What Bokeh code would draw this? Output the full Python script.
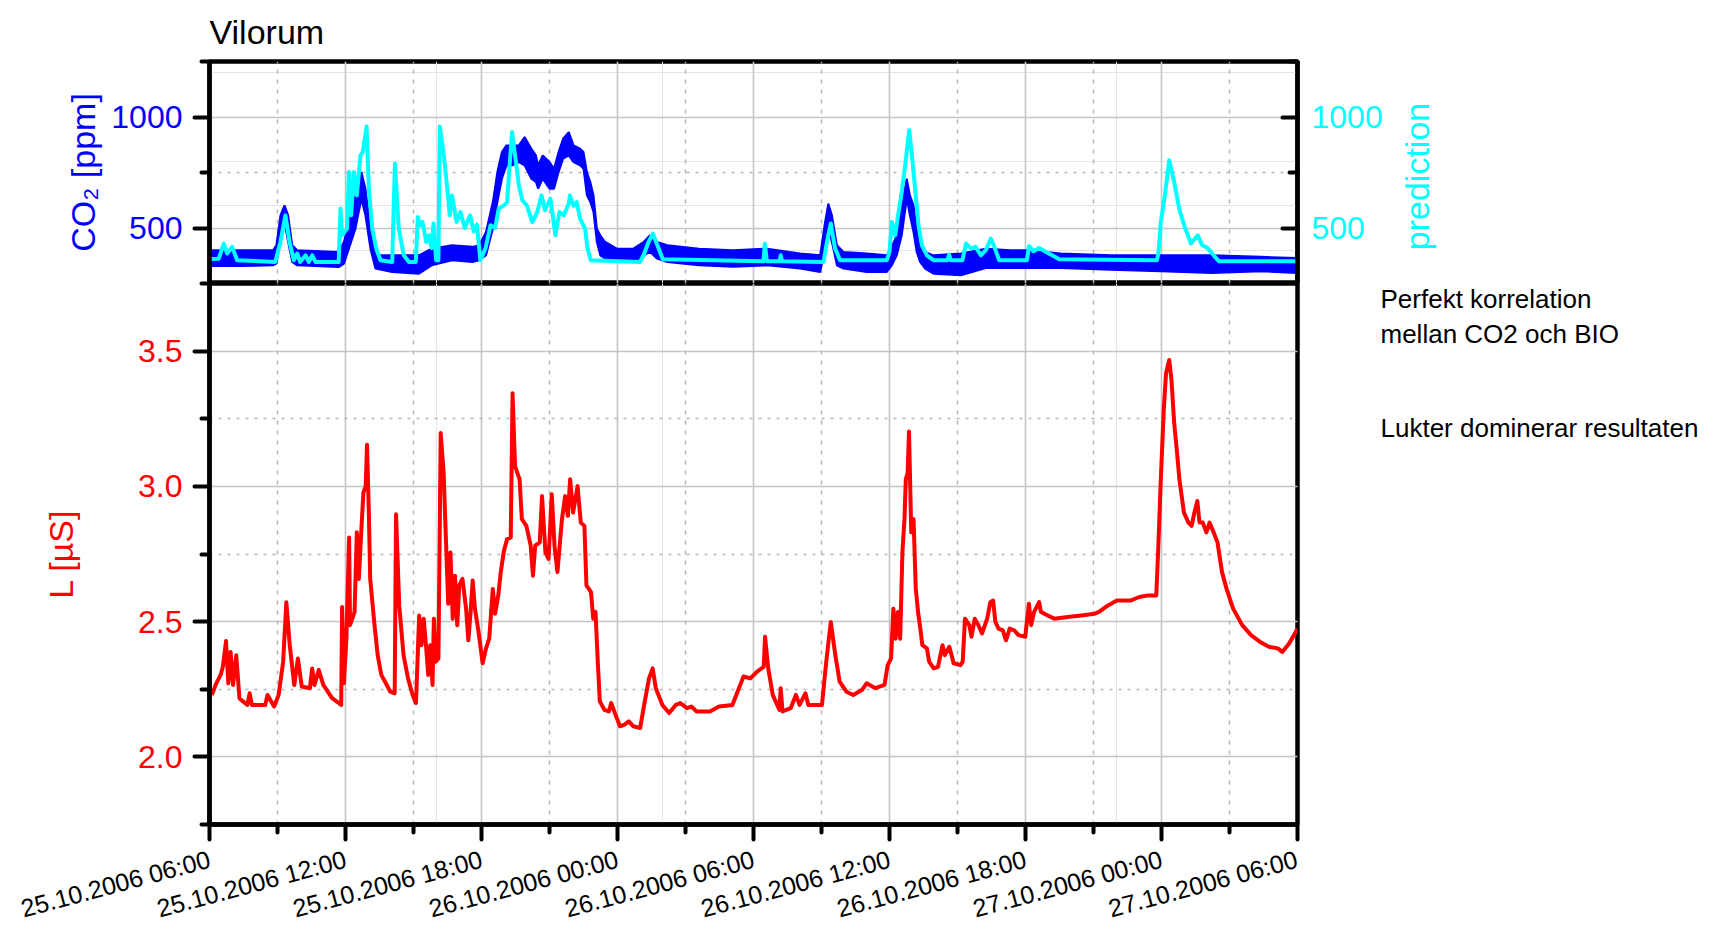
import math
from bokeh.plotting import figure
from bokeh.models import Range1d, LinearAxis, FixedTicker, Grid, Label, Title
from bokeh.layouts import column, row
from bokeh.embed import file_html
from bokeh.resources import INLINE

FONT = "Liberation Sans"
BLUE = "#0000FF"
CYAN = "#00FFFF"
RED = "#FF0000"
BLACK = "#000000"

# ---------------- data (hours since 25.10.2006 06:00) ----------------
x_ticks = [0, 6, 12, 18, 24, 30, 36, 42, 48]
x_minor = [3, 9, 15, 21, 27, 33, 39, 45]
x_tick_labels = ["25.10.2006 06:00", "25.10.2006 12:00", "25.10.2006 18:00",
                 "26.10.2006 00:00", "26.10.2006 06:00", "26.10.2006 12:00",
                 "26.10.2006 18:00", "27.10.2006 00:00", "27.10.2006 06:00"]

co2_ticks = [500, 1000]
co2_minor = [250, 750, 1250]
l_ticks = [2.0, 2.5, 3.0, 3.5]
l_minor = [1.75, 2.25, 2.75, 3.25, 3.75]
l_tick_labels = ["2.0", "2.5", "3.0", "3.5"]

# CO2 measurement (noisy band: lower / upper envelope)
co2_hours = [0.0, 1.3, 2.8, 2.95, 3.13, 3.31, 3.47, 3.65, 3.87, 5.7, 5.93, 6.15, 6.44, 6.7,
             6.88, 7.1, 7.32, 8.06, 9.24, 9.8, 10.7, 11.6, 11.9, 12.2, 12.5, 12.7, 12.9,
             13.1, 13.35, 13.65, 13.9, 14.2, 14.4, 14.5, 14.7, 15.0, 15.2, 15.4, 15.6,
             15.85, 16.06, 16.35, 16.5, 16.65, 16.8, 16.94, 17.09, 17.24, 17.46, 17.97,
             18.7, 19.15, 19.44, 19.74, 20.2, 21.6, 23.1, 24.6, 26.06, 26.94, 27.16, 27.3,
             27.46, 27.68, 27.97, 29.0, 29.88, 30.1, 30.32, 30.54, 30.76, 30.9, 31.06,
             31.2, 31.35, 31.57, 31.94, 33.15, 34.25, 35.35, 36.1, 37.56, 39.76, 41.97,
             44.2, 46.4, 48.0]
co2_low = [329, 329, 332, 340, 437, 527, 437, 347, 332, 324, 339, 407, 497, 632,
           557, 407, 317, 302, 294, 332, 355, 347, 355, 377, 497, 617, 722,
           782, 782, 797, 782, 722, 707, 677, 722, 677, 677, 752, 812,
           827, 797, 782, 767, 647, 617, 572, 437, 377, 362, 347,
           347, 377, 392, 362, 347, 332, 325, 332, 317, 302, 407, 497,
           437, 332, 317, 302, 302, 332, 377, 467, 632, 557, 482,
           392, 347, 317, 294, 287, 320, 320, 320, 320, 312, 305,
           297, 305, 297]
co2_high = [400, 400, 400, 422, 557, 602, 557, 422, 400, 392, 437, 527, 647, 752,
            677, 497, 377, 377, 377, 407, 422, 415, 422, 482, 617, 752, 842,
            872, 872, 872, 910, 857, 827, 782, 827, 797, 767, 842, 902,
            932, 872, 857, 842, 752, 707, 647, 497, 467, 437, 407,
            407, 437, 467, 437, 422, 407, 400, 407, 385, 377, 527, 610,
            557, 422, 392, 385, 377, 415, 467, 602, 722, 647, 602,
            497, 422, 392, 377, 385, 407, 400, 400, 385, 377, 377,
            377, 370, 365]

# prediction
pred_hours = [0.0, 0.41, 0.63, 0.78, 1.0, 1.22, 2.9, 3.13, 3.35, 3.53, 3.72, 3.87, 4.0,
              4.24, 4.38, 4.53, 4.68, 5.7, 5.78, 5.85, 6.07, 6.15, 6.25, 6.37, 6.5,
              6.66, 6.76, 6.93, 7.03, 7.18, 7.35, 7.54, 8.06, 8.18, 8.35, 8.57, 8.8,
              9.1, 9.19, 9.3, 9.4, 9.56, 9.68, 9.8, 9.88, 10.0, 10.1, 10.16, 10.34,
              10.49, 10.6, 10.7, 10.9, 11.07, 11.26, 11.5, 11.66, 11.8, 11.95, 12.18,
              12.4, 12.6, 12.76, 12.99, 13.13, 13.24, 13.35, 13.5, 13.65, 13.8, 14.0,
              14.24, 14.46, 14.65, 14.8, 15.04, 15.26, 15.44, 15.63, 15.85, 15.9, 16.06,
              16.2, 16.35, 16.57, 16.68, 16.82, 19.0, 19.18, 19.37, 19.56, 19.76, 20.0,
              24.44, 24.5, 24.59, 25.15, 25.2, 25.26, 27.09, 27.24, 27.41, 27.6, 27.82,
              29.88, 30.0, 30.1, 30.25, 30.4, 30.54, 30.69, 30.76, 30.87, 30.99, 31.13,
              31.28, 31.43, 31.65, 31.94, 32.56, 32.63, 32.7, 33.22, 33.37, 33.6, 33.8,
              34.03, 34.25, 34.47, 34.6, 34.84, 36.06, 36.16, 36.35, 36.6, 36.97, 37.49,
              41.8, 41.87, 41.97, 42.15, 42.34, 42.56, 42.78, 43.0, 43.3, 43.6, 43.8,
              44.03, 44.3, 44.54, 48.0]
pred_vals = [360, 362, 430, 385, 415, 355, 347, 437, 557, 437, 355, 385, 347,
             377, 347, 377, 347, 347, 587, 467, 497, 752, 557, 752, 647,
             827, 842, 957, 677, 497, 410, 355, 347, 790, 497, 377, 347,
             347, 550, 512, 527, 437, 467, 410, 520, 355, 355, 957, 827,
             677, 557, 647, 527, 572, 500, 557, 485, 515, 355, 410,
             512, 500, 587, 602, 617, 782, 932, 812, 692, 625, 602,
             527, 572, 647, 580, 632, 467, 572, 557, 610, 647, 600,
             617, 542, 497, 407, 355, 347, 385, 437, 475, 422, 359,
             350, 430, 350, 350, 377, 350, 347, 437, 520, 407, 355,
             355, 392, 527, 467, 572, 662, 782, 842, 940, 827, 677,
             512, 422, 377, 355, 355, 380, 355, 355, 430, 407, 415,
             377, 400, 452, 422, 355, 355, 419, 395, 410, 389, 359,
             355, 392, 527, 647, 805, 707, 587, 512, 430, 467, 422,
             410, 377, 350, 350]

# conductivity L [uS]
l_hours = [0.1, 0.3, 0.49, 0.59, 0.73, 0.83, 0.93, 1.04, 1.18, 1.32, 1.48, 1.67, 1.77,
           1.87, 2.46, 2.56, 2.85, 3.05, 3.25, 3.39, 3.54, 3.74, 3.9, 4.07, 4.43, 4.53,
           4.63, 4.82, 5.02, 5.41, 5.71, 5.81, 5.85, 5.93, 6.04, 6.16, 6.2, 6.4, 6.5,
           6.59, 6.69, 6.79, 6.89, 6.95, 7.03, 7.09, 7.28, 7.42, 7.58, 7.78, 7.97, 8.17,
           8.23, 8.37, 8.56, 8.76, 8.96, 9.11, 9.25, 9.35, 9.45, 9.55, 9.65, 9.74, 9.84,
           9.9, 9.98, 10.1, 10.2, 10.33, 10.43, 10.53, 10.63, 10.73, 10.83, 10.93, 11.02,
           11.16, 11.32, 11.42, 11.52, 11.61, 11.71, 11.87, 12.05, 12.2, 12.34, 12.5,
           12.6, 12.74, 12.85, 12.99, 13.13, 13.29, 13.37, 13.48, 13.68, 13.78, 13.98,
           14.17, 14.27, 14.37, 14.57, 14.67, 14.82, 14.96, 15.1, 15.22, 15.35, 15.55,
           15.69, 15.81, 15.91, 16.04, 16.24, 16.38, 16.54, 16.63, 16.83, 16.93, 17.03,
           17.13, 17.22, 17.42, 17.62, 17.72, 17.91, 18.11, 18.31, 18.5, 18.7, 19.0,
           19.19, 19.39, 19.55, 19.69, 19.98, 20.28, 20.57, 20.77, 21.06, 21.26, 21.49,
           22.08, 22.48, 23.07, 23.27, 23.56, 23.86, 24.16, 24.45, 24.51, 24.65, 24.85,
           25.14, 25.2, 25.28, 25.64, 25.87, 26.03, 26.29, 26.42, 27.02, 27.21, 27.41,
           27.61, 27.8, 28.1, 28.4, 28.79, 28.99, 29.38, 29.78, 29.92, 30.07, 30.17,
           30.27, 30.37, 30.47, 30.57, 30.66, 30.72, 30.8, 30.86, 30.96, 31.06, 31.16,
           31.26, 31.36, 31.45, 31.65, 31.75, 31.95, 32.14, 32.34, 32.44, 32.64, 32.83,
           33.13, 33.23, 33.33, 33.52, 33.62, 33.76, 33.92, 34.08, 34.31, 34.45, 34.57,
           34.67, 34.81, 35.0, 35.14, 35.3, 35.5, 35.69, 35.99, 36.15, 36.25, 36.38,
           36.6, 36.68, 36.98, 37.27, 37.86, 38.46, 39.05, 39.24, 39.64, 40.03, 40.63,
           41.02, 41.41, 41.77, 41.85, 41.97, 42.1, 42.2, 42.34, 42.44, 42.56, 42.66,
           42.79, 42.99, 43.19, 43.33, 43.45, 43.58, 43.68, 43.82, 43.98, 44.12, 44.27,
           44.47, 44.67, 44.87, 45.16, 45.56, 45.95, 46.35, 46.74, 47.13, 47.33, 47.63,
           47.92, 48.0]
l_vals = [2.229, 2.272, 2.303, 2.333, 2.428, 2.272, 2.388, 2.266, 2.376, 2.217, 2.205, 2.192, 2.235,
          2.192, 2.192, 2.229, 2.186, 2.229, 2.352, 2.572, 2.413, 2.266, 2.364, 2.26, 2.254, 2.327,
          2.266, 2.321, 2.266, 2.217, 2.199, 2.192, 2.554, 2.272, 2.437, 2.811, 2.487, 2.536, 2.83,
          2.658, 2.824, 2.977, 3.001, 3.154, 2.903, 2.658, 2.487, 2.376, 2.303, 2.272, 2.241, 2.235,
          2.897, 2.56, 2.376, 2.29, 2.229, 2.199, 2.523, 2.413, 2.511, 2.413, 2.303, 2.413, 2.266,
          2.511, 2.352, 2.364, 3.197, 3.05, 2.805, 2.566, 2.756, 2.511, 2.67, 2.487, 2.634,
          2.658, 2.548, 2.431, 2.536, 2.652, 2.548, 2.462, 2.346, 2.401, 2.437, 2.621,
          2.529, 2.597, 2.683, 2.762, 2.805, 2.811, 3.344, 3.075, 3.026, 2.879, 2.854,
          2.781, 2.67, 2.781, 2.793, 2.964, 2.756, 2.732, 2.971, 2.781, 2.683, 2.879,
          2.964, 2.891, 3.026, 2.903, 3.001, 2.866, 2.854, 2.634, 2.609, 2.511, 2.536,
          2.352, 2.205, 2.174, 2.168, 2.199, 2.156, 2.113, 2.119, 2.131, 2.113, 2.107,
          2.199, 2.29, 2.327, 2.254, 2.192, 2.162, 2.192, 2.199, 2.18, 2.186, 2.168,
          2.168, 2.186, 2.192, 2.235, 2.297, 2.29, 2.315, 2.333, 2.444, 2.327, 2.229,
          2.174, 2.254, 2.168, 2.18, 2.229, 2.192, 2.235, 2.192, 2.192, 2.352, 2.499,
          2.376, 2.278, 2.241, 2.229, 2.248, 2.272, 2.254, 2.266, 2.339, 2.364, 2.548,
          2.437, 2.536, 2.437, 2.756, 2.879, 3.026, 3.05, 3.203, 2.83, 2.879, 2.621,
          2.536, 2.474, 2.413, 2.401, 2.352, 2.327, 2.333, 2.413, 2.376, 2.407, 2.346,
          2.339, 2.352, 2.511, 2.487, 2.444, 2.511, 2.487, 2.456, 2.511, 2.572, 2.578,
          2.499, 2.474, 2.468, 2.431, 2.474, 2.468, 2.45, 2.444, 2.566, 2.487, 2.536,
          2.572, 2.536, 2.523, 2.511, 2.517, 2.523, 2.529, 2.536, 2.56, 2.578, 2.578,
          2.591, 2.597, 2.597, 2.756, 3.026, 3.283, 3.418, 3.467, 3.393, 3.234, 3.148,
          3.026, 2.903, 2.866, 2.854, 2.903, 2.946, 2.866, 2.866, 2.83, 2.866, 2.836,
          2.793, 2.683, 2.621, 2.548, 2.487, 2.45, 2.425, 2.407, 2.401, 2.388, 2.419,
          2.462, 2.474]

notes = ["Perfekt korrelation", "mellan CO2 och BIO", "Lukter dominerar resultaten"]

# ---------------- helpers ----------------
def add_grids(p, yticker):
    p.add_layout(Grid(dimension=0, ticker=FixedTicker(ticks=x_ticks, minor_ticks=x_minor),
                      grid_line_color="#C4C4C4", grid_line_width=1.6,
                      minor_grid_line_color="#B4B4B4", minor_grid_line_width=1.5,
                      minor_grid_line_dash="4 6"))
    p.add_layout(Grid(dimension=1, ticker=yticker,
                      grid_line_color="#C4C4C4", grid_line_width=1.6,
                      minor_grid_line_color="#B4B4B4", minor_grid_line_width=1.5,
                      minor_grid_line_dash="3 6"))


def style_axis(ax, color, size="32px"):
    ax.axis_line_width = 4.5
    ax.axis_line_color = BLACK
    ax.major_tick_line_width = 4
    ax.minor_tick_line_width = 4
    ax.major_tick_line_cap = "round"
    ax.minor_tick_line_cap = "round"
    ax.major_label_text_color = color
    ax.major_label_text_font = FONT
    ax.major_label_text_font_size = size
    ax.axis_label_text_font = FONT
    ax.axis_label_text_font_style = "normal"
    ax.axis_label_text_font_size = "34px"
    ax.axis_label_text_color = color


def base_fig(width, height, y_range, top_b, bottom_b, right_b, x_range):
    p = figure(width=width, height=height, x_range=x_range, y_range=y_range,
               x_axis_location=None, y_axis_location=None, title=None,
               min_border_left=209, min_border_right=right_b,
               min_border_top=top_b, min_border_bottom=bottom_b,
               output_backend="svg", toolbar_location=None)
    p.outline_line_color = BLACK
    p.outline_line_width = 4.5
    p.outline_line_alpha = 1.0
    p.background_fill_color = "white"
    p.border_fill_color = "white"
    return p


def side_fig(width, height, y_range, top_b, bottom_b):
    s = figure(width=width, height=height, x_range=Range1d(0, width), y_range=y_range,
               x_axis_location=None, y_axis_location=None, title=None,
               min_border_left=0, min_border_right=0,
               min_border_top=top_b, min_border_bottom=bottom_b,
               output_backend="svg", toolbar_location=None)
    s.outline_line_color = None
    s.xgrid.visible = False
    s.ygrid.visible = False
    s.background_fill_color = "white"
    s.border_fill_color = "white"
    return s


# ---------------- top panel: CO2 + prediction ----------------
top = base_fig(1395, 283, Range1d(250, 1250), 61, 0, 98, Range1d(0, 48))
top.title = Title(text="Vilorum", align="left", vertical_align="top", text_font=FONT,
                  text_font_size="34px", text_font_style="normal", text_color=BLACK,
                  standoff=18, offset=0)
co2_ticker = FixedTicker(ticks=co2_ticks, minor_ticks=co2_minor)
add_grids(top, co2_ticker)

lax = LinearAxis(ticker=co2_ticker, major_tick_out=15, major_tick_in=0,
                 minor_tick_out=8, minor_tick_in=0, major_label_standoff=12,
                 axis_label="CO\u2082 [ppm]", axis_label_standoff=6)
style_axis(lax, BLUE)
top.add_layout(lax, "left")

rax = LinearAxis(ticker=FixedTicker(ticks=co2_ticks, minor_ticks=co2_minor),
                 major_tick_out=0, major_tick_in=15, minor_tick_out=0, minor_tick_in=8,
                 major_label_standoff=14)
style_axis(rax, CYAN)
top.add_layout(rax, "right")

top.varea(x=co2_hours, y1=co2_low, y2=co2_high, fill_color=BLUE, fill_alpha=1.0)
top.line(co2_hours, co2_low, line_color=BLUE, line_width=2)
top.line(co2_hours, co2_high, line_color=BLUE, line_width=2)
top.line(pred_hours, pred_vals, line_color=CYAN, line_width=4, line_join="round")

side_top = side_fig(1723 - 1395, 283, top.y_range, 61, 0)
side_top.add_layout(Label(x=21, y=732, text="prediction", angle=math.pi / 2,
                          text_font=FONT, text_font_size="34px", text_color=CYAN,
                          text_align="center", text_baseline="middle"))

# ---------------- bottom panel: L ----------------
bot = base_fig(1300, 655, Range1d(1.75, 3.75), 0, 112, 3, top.x_range)
l_ticker = FixedTicker(ticks=l_ticks, minor_ticks=l_minor)
add_grids(bot, l_ticker)

lax2 = LinearAxis(ticker=l_ticker, major_tick_out=15, major_tick_in=0,
                  minor_tick_out=8, minor_tick_in=0, major_label_standoff=12,
                  major_label_overrides=dict(zip(l_ticks, l_tick_labels)),
                  axis_label="L [\u00b5S]", axis_label_standoff=55)
style_axis(lax2, RED)
bot.add_layout(lax2, "left")

xax = LinearAxis(ticker=FixedTicker(ticks=x_ticks, minor_ticks=x_minor),
                 major_tick_out=15, major_tick_in=0, minor_tick_out=8, minor_tick_in=0,
                 major_label_standoff=19,
                 major_label_overrides=dict(zip(x_ticks, x_tick_labels)),
                 major_label_orientation=math.radians(15))
style_axis(xax, BLACK, "25px")
bot.add_layout(xax, "below")

bot.line(l_hours, l_vals, line_color=RED, line_width=4, line_join="round")

side_bot = side_fig(1723 - 1300, 655, bot.y_range, 0, 112)
for txt, yv in zip(notes, [3.691, 3.562, 3.216]):
    side_bot.add_layout(Label(x=80, y=yv, text=txt, text_font=FONT, text_font_size="26px",
                              text_color=BLACK, text_align="left", text_baseline="alphabetic"))

layout = column(row(top, side_top, spacing=0), row(bot, side_bot, spacing=0), spacing=0)
open("out.html", "w").write(file_html(layout, INLINE))
